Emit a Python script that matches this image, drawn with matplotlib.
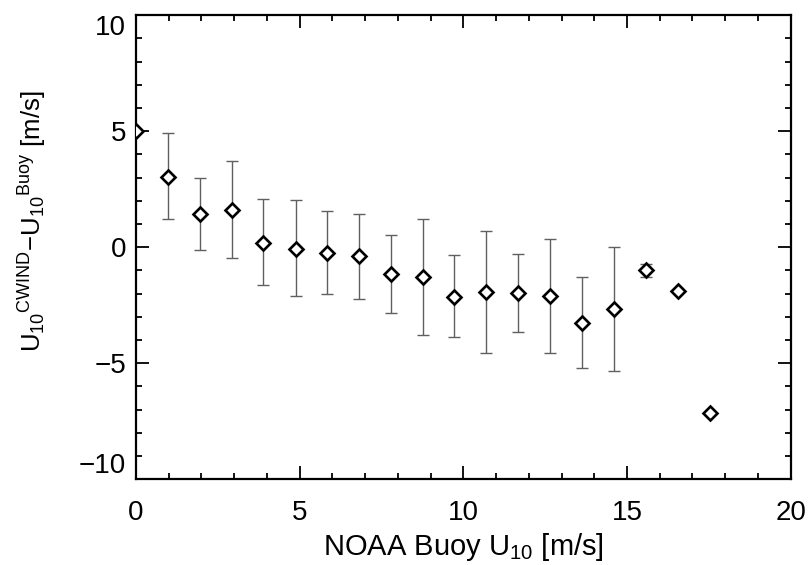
import numpy as np
import matplotlib.pyplot as plt

plt.rcParams['font.family'] = ['Liberation Sans', 'DejaVu Sans']
plt.rcParams['mathtext.fontset'] = 'custom'
plt.rcParams['mathtext.rm'] = 'Liberation Sans'
plt.rcParams['mathtext.it'] = 'Liberation Sans'

# bin centres of buoy wind speed (m/s)
u_buoy = [0.0, 0.99, 1.96, 2.94, 3.89, 4.88, 5.85, 6.82, 7.79, 8.76,
          9.73, 10.70, 11.68, 12.66, 13.63, 14.61, 15.59, 16.56, 17.54]
# mean difference CWIND - buoy
bias = [5.0, 3.03, 1.41, 1.60, 0.19, -0.07, -0.25, -0.40, -1.16, -1.27,
        -2.13, -1.94, -1.96, -2.10, -3.26, -2.68, -0.98, -1.88, -7.16]
# upper / lower end of the error bars
err_hi = [np.nan, 4.90, 2.97, 3.71, 2.09, 2.02, 1.54, 1.42, 0.51, 1.22,
          -0.33, 0.68, -0.29, 0.36, -1.29, -0.01, -0.72, np.nan, np.nan]
err_lo = [np.nan, 1.20, -0.11, -0.48, -1.65, -2.11, -2.00, -2.23, -2.83, -3.77,
          -3.88, -4.55, -3.67, -4.58, -5.20, -5.36, -1.27, np.nan, np.nan]

x = np.array(u_buoy)
y = np.array(bias)
yerr = np.vstack([y - np.array(err_lo), np.array(err_hi) - y])
has_err = ~np.isnan(np.array(err_hi))

fig = plt.figure(figsize=(8.09, 5.65), dpi=100)
ax = fig.add_axes([0.168, 0.152, 0.8094, 0.8212])

ax.errorbar(x[has_err], y[has_err], yerr=yerr[:, has_err], fmt='none',
            ecolor='#606060', elinewidth=1.0, capsize=4, capthick=1.0)
ax.plot(x, y, 'D', ms=7, mfc='white', mec='black', mew=1.9, zorder=3)

ax.set_xlim(0, 20)
ax.set_ylim(-10, 10)
ax.set_xticks([0, 5, 10, 15, 20])
ax.set_yticks([-10, -5, 0, 5, 10])
ax.set_xticks(np.arange(0, 21, 1), minor=True)
ax.set_yticks(np.arange(-10, 11, 1), minor=True)
ax.tick_params(which='both', direction='in', top=True, right=True,
               width=1.3, color='black')
ax.tick_params(which='major', length=9.5, labelsize=20)
ax.tick_params(which='minor', length=4.5)
ax.tick_params(axis='x', which='major', pad=15)
ax.tick_params(axis='y', which='major', pad=7)
for s in ax.spines.values():
    s.set_linewidth(1.6)

# IDL pulls the end labels inside the axis range
ylabs = ax.get_yticklabels()
ylabs[0].set_va('bottom')
ylabs[-1].set_va('top')

ax.set_xlabel('NOAA Buoy U$_{10}$ [m/s]', fontsize=21, va='top')
ax.xaxis.set_label_coords(0.5, -0.112)
ax.set_ylabel('U$_{10}$$^{CWIND}$$-$U$_{10}$$^{Buoy}$ [m/s]', fontsize=18.5)
ax.yaxis.set_label_coords(-0.132, 0.556)

plt.savefig('out.png', dpi=100)
plt.close(fig)
